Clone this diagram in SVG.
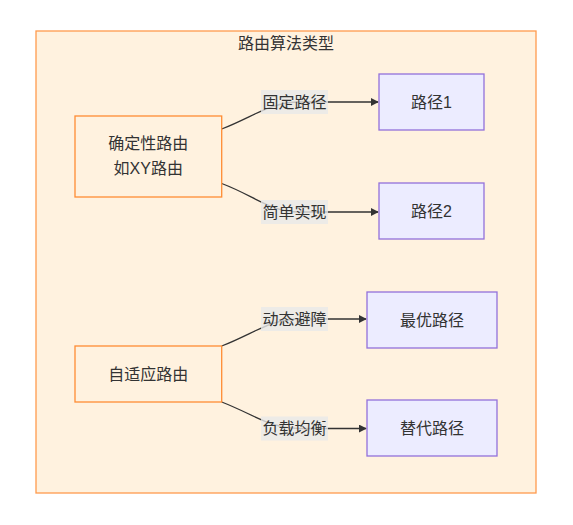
<svg xmlns="http://www.w3.org/2000/svg" width="573" height="525" viewBox="0 0 573 525">
<style>
text{font-family:"Liberation Sans","Noto Sans CJK SC",sans-serif;font-size:16px;fill:#333;text-anchor:middle;dominant-baseline:central}
.cl{fill:#FFF2DF;stroke:#FF9A4D;stroke-width:1.3}
.orn{fill:#FFF2DF;stroke:#FF8C33;stroke-width:1.3}
.pur{fill:#ECECFF;stroke:#9370DB;stroke-width:1.3}
.edge{fill:none;stroke:#333;stroke-width:1.3}
.lbl{fill:#E8E8E8;fill-opacity:0.8}
</style>
<defs>
<marker id="arr" viewBox="0 0 10 10" refX="9" refY="5" markerWidth="8" markerHeight="8" markerUnits="userSpaceOnUse" orient="auto">
<path d="M0,0 L10,5 L0,10 z" fill="#333"/>
</marker>
</defs>
<g id="cluster">
<rect class="cl" x="36" y="31" width="500" height="462"/>
<text x="286" y="43">路由算法类型</text>
</g>
<g id="connectors">
<path class="edge" marker-end="url(#arr)" d="M221.7,129 C255,116 270,102 300,102 L378,102"/>
<path class="edge" marker-end="url(#arr)" d="M221.7,183.5 C255,196 270,212 300,212 L378,212"/>
<path class="edge" marker-end="url(#arr)" d="M221.7,346 C255,333 270,319 300,319 L366,319"/>
<path class="edge" marker-end="url(#arr)" d="M221.7,402 C255,415 270,428.5 300,428.5 L366,428.5"/>
</g>
<g id="label-1"><rect class="lbl" x="261" y="90" width="67" height="24"/><text x="294.5" y="102">固定路径</text></g>
<g id="label-2"><rect class="lbl" x="261" y="200" width="67" height="24"/><text x="294.5" y="212">简单实现</text></g>
<g id="label-3"><rect class="lbl" x="261" y="307" width="67" height="24"/><text x="294.5" y="319">动态避障</text></g>
<g id="label-4"><rect class="lbl" x="261" y="416.5" width="67" height="24"/><text x="294.5" y="428.5">负载均衡</text></g>
<g id="node-det"><rect class="orn" x="75" y="116" width="146.7" height="81"/><text x="148.3" y="143.5">确定性路由</text><text x="148.3" y="168.5">如XY路由</text></g>
<g id="node-p1"><rect class="pur" x="379" y="74" width="105" height="56"/><text x="431.5" y="102">路径1</text></g>
<g id="node-p2"><rect class="pur" x="379" y="183" width="105" height="56"/><text x="431.5" y="211">路径2</text></g>
<g id="node-ada"><rect class="orn" x="75" y="346" width="146.7" height="56"/><text x="148.3" y="374">自适应路由</text></g>
<g id="node-best"><rect class="pur" x="367" y="292" width="130" height="56"/><text x="432" y="320">最优路径</text></g>
<g id="node-alt"><rect class="pur" x="367" y="400" width="130" height="56"/><text x="432" y="428">替代路径</text></g>
</svg>
